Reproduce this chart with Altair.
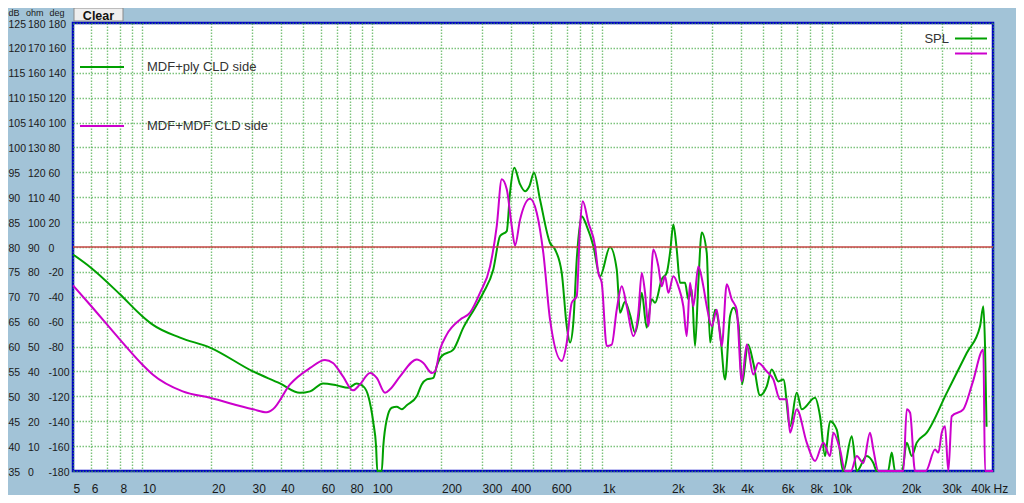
import json
import altair as alt
import pandas as pd

# ---------------- data ----------------
series_names = ["MDF+ply CLD side", "MDF+MDF CLD side"]
series_colors = ["#00a000", "#cc00cc"]

green_freq = [5, 6.0, 8, 10, 11.1, 14.6, 19.7, 30.3, 39.7, 48.5,
              53.7, 61.1, 70.1, 78.7, 85.6, 91.5, 96.2, 101.1, 103.9, 105.2,
              110.0, 111.7, 115.6, 121.6, 127.8, 134.4, 141.3, 156.2, 164.1, 172.6,
              184.4, 190.8, 200.6, 225.2, 249, 280, 304, 336, 359.5, 384.5,
              397.2, 414.7, 439.2, 461.7, 482, 505, 536.5, 593, 623.5, 666.7,
              701, 724.4, 748.7, 774.6, 814.5, 856.3, 915, 978, 1081, 1156,
              1195, 1256, 1321, 1389, 1436, 1485, 1561, 1641, 1697, 1814,
              1907, 1971, 2038, 2108, 2179, 2291, 2368, 2449, 2532, 2617,
              2708, 2847, 2943, 3094, 3253, 3420, 3595, 3723, 3914, 4054,
              4304, 4539, 4854, 5191, 5457, 5831, 6131, 6554, 7010, 7369,
              8418, 8851, 9305, 9781, 10460, 11176, 12158, 12780, 14125, 15090,
              15614, 17481, 18143, 18750, 20117, 21084, 22167, 23303, 25760, 31470,
              38440, 43920, 45390, 46160, 46870]
green_db = [78.5, 75.8, 70.5, 66.1, 64.4, 61.8, 59.8, 55.0, 52.6, 50.7,
            51.0, 52.6, 52.2, 51.7, 52.6, 52.0, 50.0, 44.7, 40.0, 35,
            35, 40.0, 45.3, 47.7, 47.9, 47.4, 48.2, 50.0, 52.4, 53.4,
            53.7, 56.1, 58.1, 59.4, 63.8, 67.8, 70.8, 75.5, 82.2, 83.2,
            90.9, 95.9, 92.6, 91.2, 92.2, 94.9, 89.5, 80.8, 79.5, 74.8,
            64.1, 60.8, 64.8, 77.5, 86.2, 84.2, 80.2, 74.1, 80.0, 75.5,
            66.8, 69.0, 66.4, 62.8, 65.4, 70.8, 63.8, 69.5, 68.8, 73.5,
            74.8, 78.8, 84.5, 79.5, 72.8, 72.8, 69.5, 71.5, 60.1, 72.8,
            82.9, 78.8, 60.8, 67.4, 62.8, 53.4, 66.1, 67.8, 64.4, 52.4,
            60.4, 56.7, 50.2, 52.0, 55.4, 53.0, 53.4, 44.0, 50.7, 47.4,
            49.7, 46.0, 38.0, 45.0, 43.3, 35, 42.0, 35, 38.0, 36.6,
            35, 35, 38.7, 35, 35, 40.7, 38.0, 40.7, 42.7, 50.7,
            58.7, 64.1, 68.1, 60.1, 43.9]

magenta_freq = [5, 5.93, 8, 10, 11.1, 15.0, 19.7, 30.3, 34.8, 37.0,
                43.9, 53.7, 62.3, 67.5, 74.6, 82.5, 88.5, 97.8, 104.6, 113.7,
                119.5, 132.1, 156.2, 166.8, 181.4, 187.5, 197.1, 210.8, 240.8, 266.2,
                294.2, 325.3, 347.8, 365.6, 384.5, 404.1, 417.7, 439.2, 485.5, 519,
                554.4, 593, 666.7, 701, 736.9, 774.6, 800.9, 822.8, 870.3, 930.4,
                961.6, 995, 1046, 1100, 1156, 1216, 1278, 1365, 1436, 1485,
                1535, 1587, 1668, 1754, 1814, 1875, 1939, 2038, 2142, 2252,
                2330, 2408, 2489, 2617, 2752, 2847, 2993, 3147, 3308, 3478,
                3656, 3844, 4042, 4249, 4539, 4772, 5191, 5544, 5929, 6342,
                6554, 7010, 7748, 8418, 9149, 9781, 10110, 10810, 11370, 12070,
                12780, 13650, 14600, 15090, 15870, 20380, 21084, 21800, 22910, 25530,
                27990, 28930, 29930, 30930, 31970, 33080, 37150, 40740, 45390, 46160, 50000]
magenta_db = [72.3, 68.4, 61.4, 56.4, 54.4, 51.0, 49.7, 47.4, 46.8, 47.4,
              52.4, 55.7, 57.3, 56.7, 54.0, 51.2, 52.4, 54.7, 53.7, 50.7,
              51.4, 54.0, 57.4, 56.7, 54.7, 55.0, 59.4, 62.4, 65.4, 66.8,
              70.8, 76.1, 84.2, 93.6, 91.6, 84.2, 80.3, 85.5, 89.7, 86.9,
              78.8, 65.4, 57.1, 60.8, 68.8, 70.1, 84.2, 89.2, 84.9, 80.2,
              74.8, 72.8, 60.1, 60.4, 67.4, 72.1, 68.1, 62.1, 66.8, 74.8,
              70.8, 64.1, 79.5, 76.1, 72.1, 74.1, 70.8, 74.1, 72.1, 68.1,
              62.1, 72.8, 68.1, 76.1, 72.1, 68.1, 64.1, 67.4, 60.1, 72.5,
              69.5, 67.4, 53.0, 60.4, 54.4, 56.7, 55.0, 53.4, 49.4, 49.4,
              42.7, 47.4, 40.7, 37.0, 40.7, 38.0, 42.7, 39.3, 35, 35,
              38.0, 36.6, 42.7, 39.3, 35, 35, 47.4, 46.7, 35, 35,
              39.3, 38.7, 42.7, 44.0, 35, 46.0, 47.4, 52.7, 59.4, 35, 35]

reference_level = [80]

x_tick_values = [5, 6, 7, 8, 9, 10, 20, 30, 40, 50, 60, 70, 80, 90,
                 100, 200, 300, 400, 500, 600, 700, 800, 900,
                 1000, 2000, 3000, 4000, 5000, 6000, 7000, 8000, 9000,
                 10000, 20000, 30000, 40000, 50000]
x_tick_labels = ["5", "6", "", "8", "", "10", "20", "30", "40", "", "60", "", "80", "",
                 "100", "200", "300", "400", "", "600", "", "", "",
                 "1k", "2k", "3k", "4k", "", "6k", "", "8k", "",
                 "10k", "20k", "30k", "40k", "Hz"]

db_ticks = [125, 120, 115, 110, 105, 100, 95, 90, 85, 80, 75, 70, 65, 60, 55, 50, 45, 40, 35]
ohm_ticks = [180, 170, 160, 150, 140, 130, 120, 110, 100, 90, 80, 70, 60, 50, 40, 30, 20, 10, 0]
deg_ticks = [180, 160, 140, 120, 100, 80, 60, 40, 20, 0, -20, -40, -60, -80, -100, -120, -140, -160, -180]
unit_headers = ["dB", "ohm", "deg"]
button_text = "Clear"
spl_text = "SPL"

# ---------------- styles ----------------
FONT = "Liberation Sans"
GRID = "#45aa45"
BG = "#a2c3d7"

label_expr = f"{json.dumps(x_tick_labels)}[indexof({json.dumps(x_tick_values)}, datum.value)]"

x_scale = alt.Scale(type="log", domain=[5, 50000], nice=False)
y_scale = alt.Scale(domain=[35, 125], nice=False, zero=False)

grid_style = dict(grid=True, gridColor=GRID, gridDash=[1.5, 1.5], gridOpacity=0.7, gridWidth=1.4)

x_axis = alt.Axis(values=x_tick_values, labelExpr=label_expr, title=None,
                  domain=False, ticks=False,
                  labelAlign="left", labelBaseline="top", labelPadding=12,
                  labelFontSize=12, labelFont=FONT, labelColor="#1a1a1a",
                  labelOverlap=False, labelFlush=False, labelBound=False, **grid_style)
y_axis = alt.Axis(values=db_ticks, labels=False, ticks=False, domain=False,
                  title=None, **grid_style)

green_df = pd.DataFrame({"freq": green_freq, "spl": green_db})
magenta_df = pd.DataFrame({"freq": magenta_freq, "spl": magenta_db})

green_line = alt.Chart(green_df).mark_line(
    strokeWidth=2, color=series_colors[0], interpolate="monotone").encode(
    x=alt.X("freq:Q", scale=x_scale, axis=x_axis),
    y=alt.Y("spl:Q", scale=y_scale, axis=y_axis),
)
magenta_line = alt.Chart(magenta_df).mark_line(
    strokeWidth=2, color=series_colors[1], interpolate="monotone").encode(
    x=alt.X("freq:Q", scale=x_scale, axis=x_axis),
    y=alt.Y("spl:Q", scale=y_scale, axis=y_axis),
)

ref_rule = alt.Chart(pd.DataFrame({"level": reference_level})).mark_rule(
    color="#c84646", strokeWidth=1.5).encode(
    y=alt.Y("level:Q", scale=y_scale, axis=y_axis))

ylab_df = pd.DataFrame({
    "db": db_ticks,
    "db_label": [str(v) for v in db_ticks],
    "ohm_label": [str(v) for v in ohm_ticks],
    "deg_label": [str(v) for v in deg_ticks],
})


def ylabel_layer(field, xpos):
    return alt.Chart(ylab_df).mark_text(
        align="left", baseline="middle", font=FONT, fontSize=10.5, dy=1.5,
        color="#1a1a1a").encode(
        y=alt.Y("db:Q", scale=y_scale, axis=y_axis),
        x=alt.value(xpos),
        text=f"{field}:N")


ylabels = [ylabel_layer("db_label", -64.5), ylabel_layer("ohm_label", -45),
           ylabel_layer("deg_label", -24.5)]

one = pd.DataFrame({"k": [0]})


def text_at(txt, x, y, size=13, align="left", weight="normal", color="#333333",
            baseline="middle"):
    return alt.Chart(one).mark_text(
        text=txt, align=align, baseline=baseline, font=FONT, fontSize=size,
        fontWeight=weight, color=color).encode(x=alt.value(x), y=alt.value(y))


def seg(x1, x2, y, color):
    return alt.Chart(one).mark_rule(color=color, strokeWidth=2).encode(
        x=alt.value(x1), x2=alt.value(x2), y=alt.value(y))


headers = [text_at(unit_headers[0], -64.5, -7, 9, color="#1a1a1a", baseline="alphabetic"),
           text_at(unit_headers[1], -47, -7, 9, color="#1a1a1a", baseline="alphabetic"),
           text_at(unit_headers[2], -23.5, -7, 9, color="#1a1a1a", baseline="alphabetic")]

button = alt.Chart(one).mark_rect(fill="#eeeeee", stroke="#8a8a8a", strokeWidth=1).encode(
    x=alt.value(1), x2=alt.value(50), y=alt.value(-15), y2=alt.value(-2))
button_label = text_at(button_text, 25.5, -7.5, 12.5, align="center", weight="bold", color="#111111")

legend = [
    seg(7, 51, 44, series_colors[0]), text_at(series_names[0], 74, 44),
    seg(7, 51, 103, series_colors[1]), text_at(series_names[1], 74, 103),
    text_at(spl_text, 876, 16, align="right"),
    seg(882, 914, 15.5, series_colors[0]),
    seg(882, 914, 30.5, series_colors[1]),
]

chart = alt.layer(
    green_line, ref_rule, magenta_line, *ylabels, *headers, button, button_label, *legend
).properties(
    width=920, height=448,
    padding={"left": 65, "top": 15, "right": 23, "bottom": 24},
    autosize=alt.AutoSizeParams(type="none"),
).configure(background=BG).configure_view(
    fill="white", stroke="#0000c8", strokeWidth=2.5)

chart.save("out.html", embed_options={"renderer": "svg", "actions": False})
